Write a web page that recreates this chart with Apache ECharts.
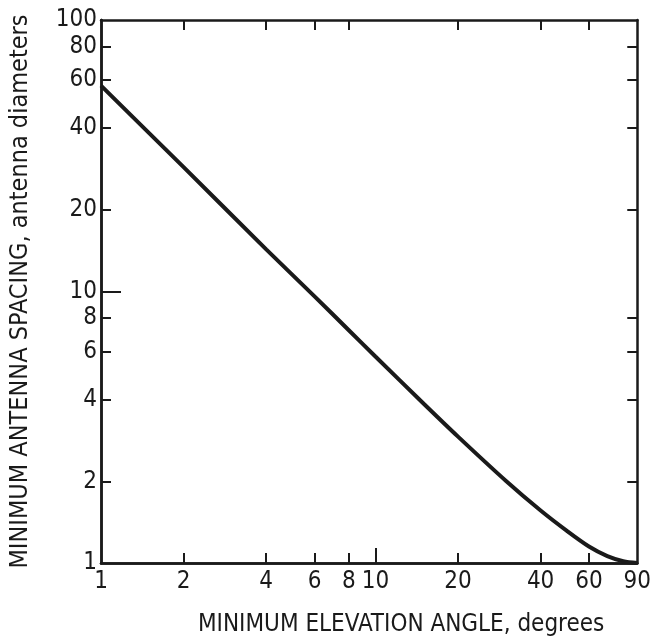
<!DOCTYPE html>
<html lang="en">
<head>
  <meta charset="UTF-8" />
  <title>Antenna spacing</title>
  <script src="https://cdn.jsdelivr.net/npm/echarts@6.0.0/dist/echarts.min.js"></script>
  <style>
    html, body { margin: 0; padding: 0; background: #fff; }
    #chart { width: 654px; height: 642px; }
  </style>
</head>
<body>
  <div id="chart"></div>
  <script>
    // elevation angle (deg) vs minimum spacing (antenna diameters)
    var elevation = [1, 2, 4, 6, 8, 10, 15, 20, 30, 40, 50, 60, 70, 80, 90];
    var spacing = [57.3, 28.7, 14.3, 9.6, 7.2, 5.76, 3.86, 2.92, 2.0, 1.56, 1.31, 1.15, 1.06, 1.015, 1.0];

    var xTicks = [2, 4, 6, 8, 20, 40, 60];
    var xLabels = [1, 2, 4, 6, 8, 10, 20, 40, 60, 90];
    var yTicks = [2, 4, 6, 8, 20, 40, 60, 80];
    var yLabels = [1, 2, 4, 6, 8, 10, 20, 40, 60, 80, 100];

    var ink = "#1a1a1a";
    var font = "'DejaVu Sans Condensed', 'Liberation Sans Narrow', sans-serif";

    var chart = echarts.init(document.getElementById("chart"));

    function xAxisCfg(pos, ticks, len, labels) {
      return {
        type: "log",
        logBase: 10,
        min: 1,
        max: 90,
        position: pos,
        axisLine: { show: true, onZero: false, lineStyle: { color: ink, width: 2.5 } },
        axisTick: { show: true, inside: true, length: len, customValues: ticks, lineStyle: { color: ink, width: 2 } },
        axisLabel: labels
          ? { show: true, customValues: labels, margin: 7, color: ink, fontFamily: font, fontSize: 24 }
          : { show: false },
        splitLine: { show: false },
        minorTick: { show: false }
      };
    }

    function yAxisCfg(pos, ticks, len, labels) {
      return {
        type: "log",
        logBase: 10,
        min: 1,
        max: 100,
        position: pos,
        axisLine: { show: true, onZero: false, lineStyle: { color: ink, width: 2.5 } },
        axisTick: { show: true, inside: true, length: len, customValues: ticks, lineStyle: { color: ink, width: 2 } },
        axisLabel: labels
          ? { show: true, customValues: labels, margin: 4, color: ink, fontFamily: font, fontSize: 24 }
          : { show: false },
        splitLine: { show: false },
        minorTick: { show: false }
      };
    }

    var xBottom = xAxisCfg("bottom", xTicks, 10, xLabels);
    xBottom.name = "MINIMUM ELEVATION ANGLE, degrees";
    xBottom.nameLocation = "middle";
    xBottom.nameGap = 50;
    xBottom.nameTextStyle = { color: ink, fontFamily: font, fontSize: 24, padding: [0, 0, 0, 64] };

    var yLeft = yAxisCfg("left", yTicks, 10, yLabels);
    yLeft.name = "MINIMUM ANTENNA SPACING, antenna diameters";
    yLeft.nameLocation = "middle";
    yLeft.nameRotate = 90;
    yLeft.nameGap = 68;
    yLeft.nameTextStyle = { color: ink, fontFamily: font, fontSize: 25 };

    var option = {
      backgroundColor: "#ffffff",
      animation: false,
      grid: { left: 94, right: 9, top: 20, bottom: 75 },
      xAxis: [
        xBottom,
        xAxisCfg("top", xTicks, 10, false),
        xAxisCfg("bottom", [10], 15, false)
      ],
      yAxis: [
        yLeft,
        yAxisCfg("right", yTicks, 10, false),
        yAxisCfg("left", [10], 20, false)
      ],
      series: [
        {
          type: "line",
          xAxisIndex: 0,
          yAxisIndex: 0,
          smooth: 0.3,
          symbol: "none",
          lineStyle: { color: ink, width: 4 },
          data: elevation.map(function (e, i) { return [e, spacing[i]]; })
        }
      ]
    };

    chart.setOption(option);
  </script>
</body>
</html>
